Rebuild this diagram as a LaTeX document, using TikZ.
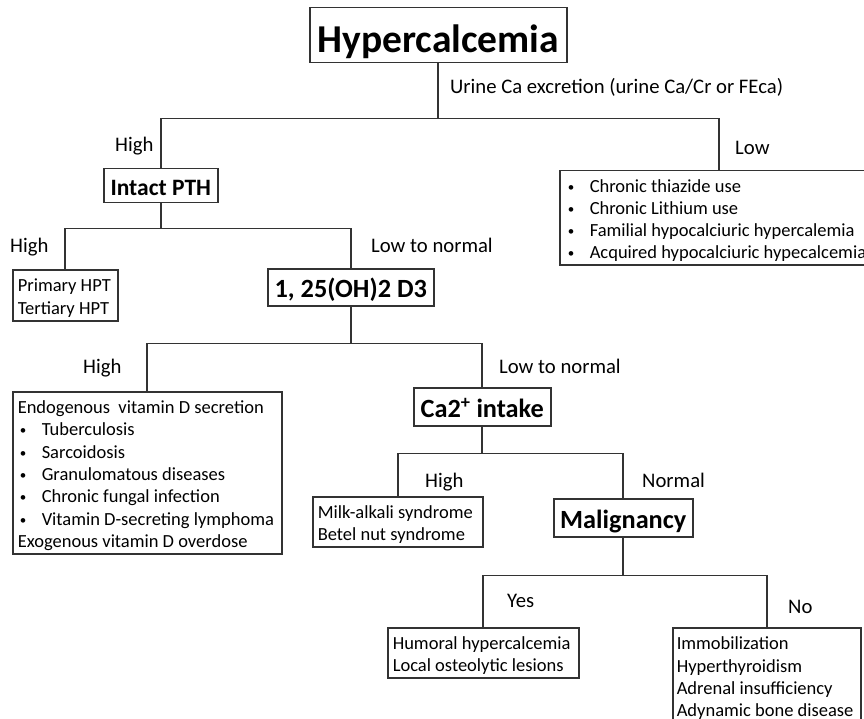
\documentclass[tikz,border=0pt]{standalone}
\usepackage{fontspec}
\setmainfont{Carlito}
\definecolor{linec}{gray}{0.2}
\newcommand\bodyfont{\fontsize{18.5}{22.3}\selectfont\hyphenpenalty=10000 }
\newcommand\labfont{\fontsize{20.7}{24}\selectfont}
\newcommand\headfont{\fontsize{26.3}{30}\selectfont\bfseries}
\newcommand\blt[1]{\hspace*{2pt}\makebox[22pt][l]{\raisebox{1pt}{\fontsize{13}{13}\selectfont\textbullet}}#1}
\newcommand\fstrut{\rule{0pt}{18.5pt}}
\tikzset{
  box/.style={draw=linec, line width=1.5pt, inner sep=0pt, anchor=north west},
  txtbox/.style={box, font=\bodyfont, align=flush left, inner xsep=5pt},
  headbox/.style={box, text depth=0pt},
  lab/.style={anchor=base west, inner sep=0pt, font=\labfont},
  wire/.style={draw=linec, line width=1.6pt},
}
\begin{document}
\begin{tikzpicture}[x=1pt,y=-1pt]
\clip (0,0) rectangle (864,719);
\fill[white] (0,0) rectangle (864,719);
% boxes
\node[headbox, minimum width=257pt, minimum height=55pt, text height=35pt, font=\fontsize{39.5}{44}\selectfont\bfseries] (hyper) at (309,7) {Hypercalcemia};
\node[headbox, minimum width=114pt, minimum height=34pt, text height=20pt, font=\fontsize{23.5}{28}\selectfont\bfseries] (pth) at (103,168) {Intact PTH};
\node[txtbox, inner xsep=6pt, text width=306pt, minimum height=94pt] (low) at (559,170) {\fstrut\blt{Chronic thiazide use}\\\blt{Chronic Lithium use}\\\blt{Familial hypocalciuric hypercalemia}\\\blt{Acquired hypocalciuric hypecalcemia}};
\node[txtbox, text width=95pt, minimum height=51pt] (prim) at (12,269) {\fstrut Primary HPT\\Tertiary HPT};
\node[headbox, minimum width=166pt, minimum height=37pt, text height=20pt, font=\headfont] (d3) at (267,268) {1, 25(OH)2 D3};
\node[txtbox, text width=259pt, minimum height=162pt] (endo) at (12,391) {\fstrut Endogenous\ \ vitamin D secretion\\\blt{Tuberculosis}\\\blt{Sarcoidosis}\\\blt{Granulomatous diseases}\\\blt{Chronic fungal infection}\\\blt{Vitamin D-secreting lymphoma}\\Exogenous vitamin D overdose};
\node[headbox, minimum width=137pt, minimum height=38pt, text height=21pt, font=\headfont] (ca) at (413,387) {Ca2\textsuperscript{+} intake};
\node[txtbox, text width=160pt, minimum height=50pt] (milk) at (312,496) {\fstrut Milk-alkali syndrome\\Betel nut syndrome};
\node[headbox, minimum width=139pt, minimum height=38pt, text height=22pt, font=\headfont] (mal) at (553,498) {Malignancy};
\node[txtbox, text width=181pt, minimum height=50pt] (hum) at (387,627) {\fstrut Humoral hypercalcemia\\Local osteolytic lesions};
\node[txtbox, inner xsep=4pt, text width=180pt, minimum height=101pt] (no) at (672,627) {Immobilization\\Hyperthyroidism\\Adrenal insufficiency\\Adynamic bone disease};
% connectors
\draw[wire] (hyper.south) -- ++(0,55) coordinate (j1);
\draw[wire] (pth.north) |- (j1) -| (low.north);
\draw[wire] (pth.south) -- ++(0,25) coordinate (j2);
\draw[wire] (prim.north) |- (j2) -| (d3.north);
\draw[wire] (d3.south) -- ++(0,37) coordinate (j3);
\draw[wire] (endo.north) |- (j3) -| (ca.north);
\draw[wire] (ca.south) -- ++(0,27) coordinate (j4);
\draw[wire] (milk.north) |- (j4) -| (mal.north);
\draw[wire] (mal.south) -- ++(0,38) coordinate (j5);
\draw[wire] (hum.north) |- (j5) -| (no.north);
% labels
\node[lab] (l0) at (450,94) {Urine Ca excretion (urine Ca/Cr or FEca)};
\node[lab] (l1) at (115,152) {High};
\node[lab] (l2) at (735,155) {Low};
\node[lab] (l3) at (10,252) {High};
\node[lab] (l4) at (371,252) {Low to normal};
\node[lab] (l5) at (83,373) {High};
\node[lab] (l6) at (499,373) {Low to normal};
\node[lab] (l7) at (425,487) {High};
\node[lab] (l8) at (642,487) {Normal};
\node[lab] (l9) at (507,607) {Yes};
\node[lab] (l10) at (788,613) {No};
\end{tikzpicture}
\end{document}
